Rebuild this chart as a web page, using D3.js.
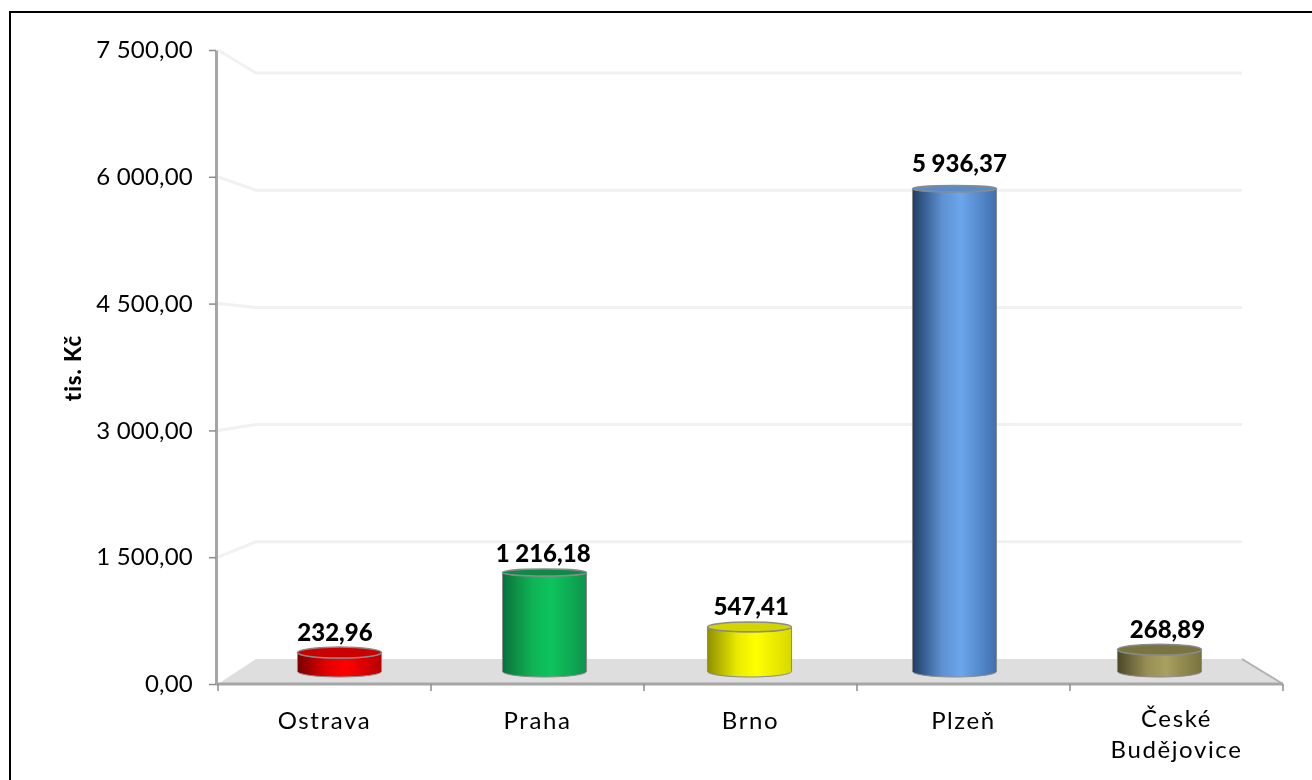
<!DOCTYPE html>
<html>
<head>
<meta charset="utf-8">
<script src="https://cdn.jsdelivr.net/npm/d3@7"></script>
<style>
  html, body { margin: 0; padding: 0; background: #fff; overflow: hidden; }
  svg { display: block; font-family: "Lato", sans-serif; }
</style>
</head>
<body>
<div id="chart"></div>
<script>
const categories = ['Ostrava', 'Praha', 'Brno', 'Plzeň', 'České Budějovice'];
const values = [232.96, 1216.18, 547.41, 5936.37, 268.89];
const yTicks = [0, 1500, 3000, 4500, 6000, 7500];
// dark edge, highlight, right edge, cap
const barColors = [
    ['#7a0000', '#ff0000', '#b80000', '#cc0000'],
    ['#06703a', '#0cc45c', '#0a944c', '#0a8a45'],
    ['#8f8f00', '#ffff00', '#d8d800', '#d4d400'],
    ['#1f3d66', '#6ca6ec', '#3f6fae', '#5a8cc8'],
    ['#4c4826', '#a8a060', '#78723f', '#7a7440']
];

const fmt = (v) => d3.format(',.2f')(v).replace(/,/g, ' ').replace('.', ',');

const width = 1312, height = 780;
const svg = d3.select('#chart').append('svg')
    .attr('width', width).attr('height', height);
const defs = svg.append('defs');
defs.append('filter').attr('id', 'soft')
    .append('feGaussianBlur').attr('stdDeviation', 0.45);

// front edge of the 3D box, back wall, and the depth halfway between (bars stand there)
const yFront = d3.scaleLinear().domain([0, 7500]).range([684, 50]);
const yBack = d3.scaleLinear().domain([0, 7500]).range([659, 73]);
const yMid = d3.scaleLinear().domain([0, 7500]).range([671.5, 61.5]);
const xFront = d3.scaleBand().domain(categories).range([218, 1283]);
const xBack = [256, 1242];
const xMid = d3.scaleBand().domain(categories).range([237, 1262])
    .paddingInner(0.59).paddingOuter(0.295);
const topRy = d3.scaleLinear().domain([0, 1216, 7500]).range([6, 3.5, 3]);
const labelGap = d3.scaleLinear().domain([0, 7500]).range([6, 15]);
const labelX = d3.scaleLinear().domain([340, 1159]).range([335.5, 1167]); // labels sit nearer the viewer than the bars
const baseRy = 5.5;

// frame, only its top and left show
svg.append('rect').attr('x', 10).attr('y', 12)
    .attr('width', 1400).attr('height', 900)
    .attr('fill', '#fff').attr('stroke', '#000').attr('stroke-width', 2);

const plot = svg.append('g').attr('filter', 'url(#soft)');

// floor
plot.append('path')
    .attr('d', d3.line()([[218, yFront(0)], [xBack[0], yBack(0)], [xBack[1], yBack(0)], [1283, yFront(0)]]))
    .attr('fill', '#dedede');
plot.append('path')
    .attr('d', d3.line()([[xBack[1], yBack(0)], [1283, yFront(0)]]))
    .attr('stroke', '#b0b0b0').attr('stroke-width', 2).attr('fill', 'none');

// gridlines on the back wall
const grid = plot.append('g').attr('fill', 'none').attr('stroke', '#f1f1f1').attr('stroke-width', 3);
grid.selectAll('path').data(yTicks.filter((d) => d > 0)).enter().append('path')
    .attr('d', (d) => d3.line()([[218, yFront(d)], [xBack[0], yBack(d)], [xBack[1], yBack(d)]]));

// Y axis
const axisY = plot.append('g').attr('transform', 'translate(216,0)')
    .call(d3.axisLeft(yFront).tickValues(yTicks).tickSize(7).tickSizeOuter(0).tickPadding(16).tickFormat(fmt))
    .attr('font-family', null);
axisY.select('.domain').attr('stroke', '#a6a6a6').attr('stroke-width', 3);
axisY.selectAll('.tick line').attr('stroke', '#8c8c8c').attr('stroke-width', 1.5);
axisY.selectAll('text').attr('fill', '#000')
    .attr('font-weight', 400).attr('letter-spacing', 0.2).style('font-size', '24px');

// X axis
const axisX = plot.append('g').attr('transform', 'translate(0,684)');
axisX.append('line').attr('x1', 216).attr('x2', 1283)
    .attr('stroke', '#a6a6a6').attr('stroke-width', 3);
axisX.selectAll('line.tick').data(categories.concat(['end'])).enter().append('line')
    .attr('class', 'tick')
    .attr('x1', (d) => d === 'end' ? xFront.range()[1] : xFront(d))
    .attr('x2', (d) => d === 'end' ? xFront.range()[1] : xFront(d))
    .attr('y1', 0).attr('y2', 7)
    .attr('stroke', '#8c8c8c').attr('stroke-width', 1.5);

const catLabels = plot.append('g').attr('fill', '#000').attr('text-anchor', 'middle')
    .attr('font-weight', 400).attr('letter-spacing', 1.6)
    .style('font-size', '24px');
catLabels.selectAll('text').data(categories).enter().append('text')
    .attr('x', (d) => xFront(d) + xFront.bandwidth() / 2)
    .attr('y', (d) => d.includes(' ') ? 727 : 729)
    .each(function (d) {
        const words = d.split(' ');
        const sel = d3.select(this);
        const x = sel.attr('x');
        words.forEach((w, i) => sel.append('tspan').attr('x', x).attr('dy', i ? 31 : 0).text(w));
    });

// axis title
plot.append('text')
    .attr('transform', 'translate(81,368) rotate(-90)')
    .attr('text-anchor', 'middle')
    .attr('font-weight', 900).attr('fill', '#000')
    .attr('letter-spacing', 1)
    .style('font-size', '22px')
    .text('tis. Kč');

// gradients for the cylinders
barColors.forEach((c, i) => {
    const g = defs.append('linearGradient').attr('id', `body${i}`);
    g.append('stop').attr('offset', '0%').attr('stop-color', c[0]);
    g.append('stop').attr('offset', '35%').attr('stop-color', d3.interpolateRgb(c[0], c[1])(0.8));
    g.append('stop').attr('offset', '58%').attr('stop-color', c[1]);
    g.append('stop').attr('offset', '100%').attr('stop-color', c[2]);
});

const bars = plot.append('g').selectAll('g.bar').data(values).enter().append('g').attr('class', 'bar');
const cx = (i) => xMid(categories[i]) + xMid.bandwidth() / 2;
const rx = xMid.bandwidth() / 2;

bars.append('path')
    .attr('d', (d, i) => {
        const l = cx(i) - rx, r = cx(i) + rx, top = yMid(d), base = yMid(0);
        return `M${l},${top}L${l},${base}A${rx},${baseRy} 0 0 0 ${r},${base}L${r},${top}A${rx},${topRy(d)} 0 0 1 ${l},${top}Z`;
    })
    .attr('fill', (d, i) => `url(#body${i})`)
    .attr('stroke', '#8a8a8a').attr('stroke-width', 1);

bars.append('ellipse')
    .attr('cx', (d, i) => cx(i))
    .attr('cy', (d) => yMid(d))
    .attr('rx', rx)
    .attr('ry', (d) => topRy(d))
    .attr('fill', (d, i) => barColors[i][3])
    .attr('stroke', '#8a8a8a').attr('stroke-width', 1.5);

// value labels
bars.append('text')
    .attr('x', (d, i) => labelX(cx(i)))
    .attr('y', (d) => yMid(d) - topRy(d) - labelGap(d))
    .attr('text-anchor', 'middle')
    .attr('font-weight', 900).attr('fill', '#000')
    .style('font-size', '24px')
    .text((d) => fmt(d));
</script>
</body>
</html>
